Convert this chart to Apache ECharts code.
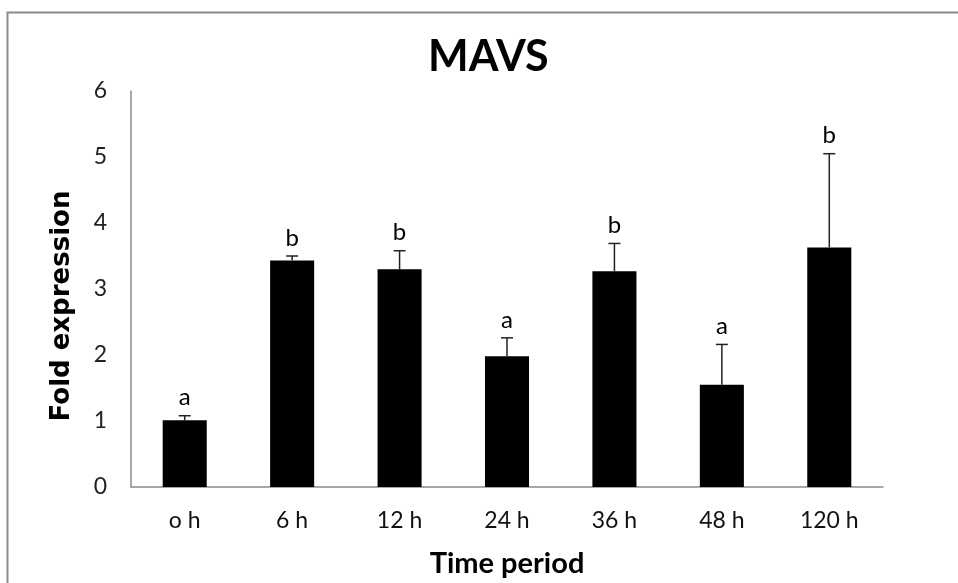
<!DOCTYPE html>
<html>
<head>
<meta charset="utf-8">
<script src="https://cdn.jsdelivr.net/npm/echarts@6/dist/echarts.min.js"></script>
<style>
html,body{margin:0;padding:0;background:#fff;}
#chart{width:958px;height:583px;}
</style>
</head>
<body>
<div id="chart"></div>
<script>
var categories = ['o h', '6 h', '12 h', '24 h', '36 h', '48 h', '120 h'];
var means = [1.01, 3.43, 3.30, 1.98, 3.27, 1.55, 3.63];
var errors = [0.07, 0.07, 0.28, 0.28, 0.42, 0.61, 1.42];
var letters = ['a', 'b', 'b', 'a', 'b', 'a', 'b'];
var yTicks = [0, 1, 2, 3, 4, 5, 6];

var errData = means.map(function (m, i) { return [i, m, m + errors[i], letters[i]]; });

var chart = echarts.init(document.getElementById('chart'), null, { renderer: 'canvas' });
chart.setOption({
  animation: false,
  backgroundColor: '#fff',
  graphic: [{
    type: 'rect', left: 5, top: 10, z: -1,
    shape: { width: 960, height: 600 },
    style: { fill: 'none', stroke: '#8a8a8a', lineWidth: 2 }
  }, {
    type: 'text', left: 428, top: 36,
    style: { text: 'MAVS', fill: '#000', font: 'bold 43px Lato' }
  }],
  grid: { left: 131, right: 75, top: 91, bottom: 95 },
  xAxis: {
    type: 'category', data: categories,
    name: 'Time period', nameLocation: 'middle', nameGap: 62,
    nameTextStyle: { fontFamily: 'Lato', fontWeight: 'bold', fontSize: 29, color: '#000' },
    axisLine: { lineStyle: { color: '#8a8a8a', width: 1.5 } },
    axisTick: { show: false },
    axisLabel: { fontFamily: 'Lato', fontSize: 23, color: '#111', margin: 22 }
  },
  yAxis: {
    type: 'value', min: yTicks[0], max: yTicks[yTicks.length - 1], interval: 1,
    name: 'Fold expression', nameLocation: 'middle', nameGap: 56,
    nameTextStyle: { fontFamily: 'DejaVu Sans', fontWeight: 'bold', fontSize: 26, color: '#000',
      padding: [0, 34, 0, 0] },
    axisLine: { show: true, lineStyle: { color: '#8a8a8a', width: 1.5 } },
    axisTick: { show: false },
    splitLine: { show: false },
    axisLabel: { fontFamily: 'Lato', fontSize: 23, color: '#222', margin: 24 }
  },
  series: [{
    type: 'bar', data: means, barWidth: '41%',
    itemStyle: { color: '#000' }
  }, {
    type: 'custom', data: errData, z: 5,
    renderItem: function (params, api) {
      var x = api.value(0);
      var base = api.coord([x, api.value(1)]);
      var top = api.coord([x, api.value(2)]);
      var cap = 6;
      return {
        type: 'group',
        children: [
          { type: 'line', shape: { x1: base[0], y1: base[1], x2: top[0], y2: top[1] },
            style: { stroke: '#222', lineWidth: 1.5 } },
          { type: 'line', shape: { x1: top[0] - cap, y1: top[1], x2: top[0] + cap, y2: top[1] },
            style: { stroke: '#222', lineWidth: 1.5 } },
          { type: 'text', x: top[0], y: top[1] - 6,
            style: { text: api.value(3), fill: '#000', fontFamily: 'Lato', fontSize: 24,
              align: 'center', verticalAlign: 'bottom' } }
        ]
      };
    }
  }]
});
</script>
</body>
</html>
